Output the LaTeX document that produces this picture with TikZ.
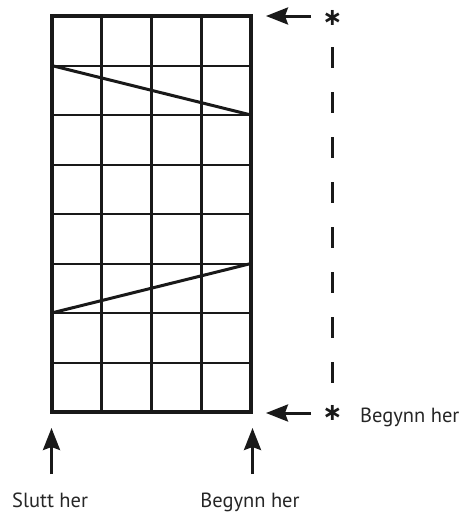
\documentclass[tikz,border=0pt]{standalone}
\usepackage{fontspec}
\setmainfont{PT Sans}
\newfontfamily\starfont{DejaVu Sans}
\usetikzlibrary{arrows.meta}
\begin{document}
\begin{tikzpicture}[x=1pt,y=-1pt,
  ink/.style={draw=black!90},
  frame/.style={ink,line width=4pt},
  vline/.style={ink,line width=3pt},
  hline/.style={ink,line width=2pt},
  diag/.style={ink,line width=3pt},
  pointer/.style={ink,line width=3pt,-{Stealth[length=22pt,width=17pt,inset=3pt]}},
  dashline/.style={ink,line width=3pt,dash pattern=on 21pt off 24pt},
  lbl/.style={font=\fontsize{20.5}{24}\selectfont,inner sep=0pt,text=black!85},
  star/.style={font=\starfont\bfseries\fontsize{24}{24}\selectfont,inner sep=0pt,text=black!90}
]
\useasboundingbox (0,0) rectangle (468,515);
% grid
\foreach \i in {1,...,7}
  \draw[hline] (51.5,{16+49.5*\i}) -- (251,{16+49.5*\i});
\foreach \j in {1,2,3}
  \draw[vline] ({51.5+49.875*\j},16) -- ({51.5+49.875*\j},412);
\draw[frame] (51.5,16) rectangle (251,412);
% diagonals
\coordinate (d1a) at (51.5,65.5);
\coordinate (d1b) at (251,115);
\coordinate (d2a) at (251,263.5);
\coordinate (d2b) at (51.5,313);
\draw[diag] (d1a) -- (d1b);
\draw[diag] (d2a) -- (d2b);
% asterisks and dashed line
\node[star] (st1) at (332.5,18) {∗};
\node[star] (st2) at (332.5,413) {∗};
\coordinate (ds) at (332.5,47);
\coordinate (de) at (332.5,383);
\draw[dashline] (ds) -- (de);
% arrows
\coordinate (a1s) at (311,16);   \coordinate (a1e) at (266,16);
\coordinate (a2s) at (311,413);  \coordinate (a2e) at (266,413);
\coordinate (a3s) at (51.5,474); \coordinate (a3e) at (51.5,428);
\coordinate (a4s) at (252.5,474);\coordinate (a4e) at (252.5,428);
\draw[pointer] (a1s) -- (a1e);
\draw[pointer] (a2s) -- (a2e);
\draw[pointer] (a3s) -- (a3e);
\draw[pointer] (a4s) -- (a4e);
% labels
\node[lbl,anchor=base west] (t1) at (360,422) {Begynn her};
\node[lbl,anchor=base west] (t2) at (12,507) {Slutt her};
\node[lbl,anchor=base] (t3) at (250,507) {Begynn her};
\end{tikzpicture}
\end{document}
